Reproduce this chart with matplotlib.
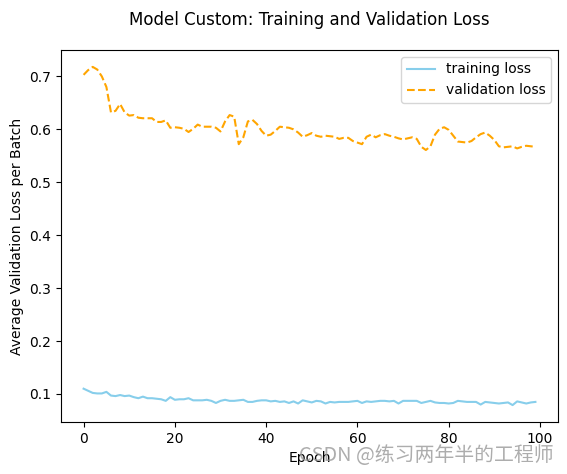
import numpy as np
import matplotlib.pyplot as plt

# loss per epoch
train_loss = [0.110, 0.106, 0.102, 0.101, 0.101, 0.104, 0.097, 0.096, 0.098, 0.096,
              0.097, 0.094, 0.092, 0.095, 0.092, 0.092, 0.091, 0.090, 0.087, 0.094,
              0.089, 0.090, 0.090, 0.092, 0.088, 0.088, 0.088, 0.089, 0.087, 0.083,
              0.087, 0.089, 0.087, 0.087, 0.088, 0.089, 0.085, 0.085, 0.087, 0.088,
              0.088, 0.086, 0.087, 0.085, 0.086, 0.083, 0.086, 0.082, 0.088, 0.086,
              0.084, 0.087, 0.086, 0.082, 0.085, 0.084, 0.085, 0.085, 0.085, 0.086,
              0.087, 0.083, 0.086, 0.085, 0.086, 0.087, 0.087, 0.086, 0.087, 0.082,
              0.087, 0.087, 0.087, 0.087, 0.083, 0.085, 0.087, 0.084, 0.083, 0.083,
              0.082, 0.083, 0.087, 0.086, 0.085, 0.085, 0.085, 0.080, 0.085, 0.084,
              0.083, 0.082, 0.083, 0.084, 0.079, 0.086, 0.084, 0.082, 0.084, 0.085]

val_loss = [0.703, 0.712, 0.718, 0.713, 0.700, 0.680, 0.632, 0.635, 0.648, 0.632,
            0.626, 0.627, 0.622, 0.621, 0.621, 0.621, 0.614, 0.614, 0.617, 0.603,
            0.604, 0.603, 0.601, 0.595, 0.601, 0.609, 0.605, 0.605, 0.605, 0.603,
            0.596, 0.615, 0.627, 0.624, 0.572, 0.585, 0.615, 0.618, 0.610, 0.597,
            0.588, 0.590, 0.597, 0.605, 0.604, 0.603, 0.600, 0.594, 0.586, 0.589,
            0.593, 0.588, 0.586, 0.588, 0.587, 0.586, 0.582, 0.584, 0.584, 0.578,
            0.575, 0.572, 0.586, 0.590, 0.585, 0.589, 0.591, 0.588, 0.586, 0.583,
            0.581, 0.583, 0.585, 0.582, 0.567, 0.561, 0.568, 0.590, 0.601, 0.604,
            0.599, 0.588, 0.577, 0.576, 0.575, 0.578, 0.585, 0.591, 0.594, 0.588,
            0.580, 0.568, 0.566, 0.567, 0.568, 0.564, 0.567, 0.569, 0.568, 0.567]

epochs = np.arange(len(train_loss))

fig = plt.figure(figsize=(5.67, 4.74), dpi=100)
ax = fig.add_axes([61 / 567, 52 / 474, 497 / 567, 372 / 474])

ax.plot(epochs, train_loss, color='skyblue', label='training loss')
ax.plot(epochs, val_loss, color='orange', linestyle='--', label='validation loss')

ax.set_xlabel('Epoch')
ax.set_ylabel('Average Validation Loss per Batch')
ax.legend(loc='upper right')

ax.set_title('Model Custom: Training and Validation Loss', pad=18)

# watermark
fig.text(0.977, 0.038, 'CSDN @练习两年半的工程师', ha='right', va='center',
         fontsize=14.3, color='#999999', alpha=0.8,
         family=['Noto Sans CJK SC', 'DejaVu Sans'])

fig.savefig('out.png', dpi=100)
